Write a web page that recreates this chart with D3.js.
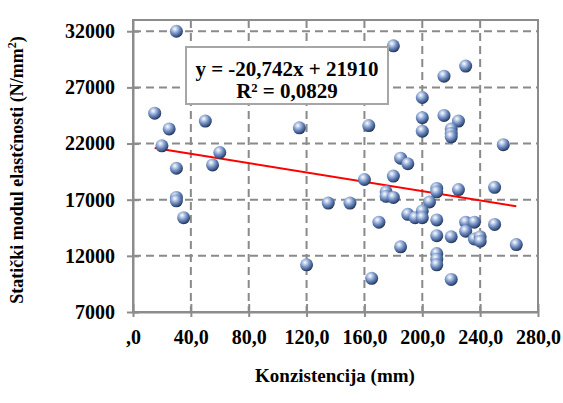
<!DOCTYPE html>
<html>
  <head>
    <meta charset="utf-8">
    <script src="https://d3js.org/d3.v7.min.js"></script>
    <style>
      body {
        margin: 0;
        background: #fff;
      }
    </style>
  </head>
  <body>
    <svg id="chart" width="563" height="403"></svg>
    <script>
      // values
      const konzistencija = [30, 15, 50, 25, 20, 60, 55, 30, 30, 30, 35,
        115, 163, 160, 135, 150, 120, 165,
        180, 230, 215, 200, 200, 215, 225, 200, 220, 220, 220, 256,
        185, 190, 180, 175, 175, 180, 210, 210, 225, 250, 205,
        190, 195, 200, 200, 170, 210, 230, 236, 250, 230,
        210, 220, 236, 240, 240, 265, 185, 210, 210, 210, 220]
      const modul = [32000, 24700, 24000, 23300, 21800, 21200, 20100, 19800, 17200, 16900, 15400,
        23400, 23600, 18800, 16700, 16700, 11200, 10000,
        30700, 28900, 28000, 26100, 24300, 24500, 24000, 23100, 23300, 22900, 22600, 21900,
        20700, 20200, 19100, 17700, 17300, 17200, 18000, 17700, 17900, 18100, 16800,
        15700, 15400, 16000, 15400, 15000, 15200, 15000, 15000, 14800, 14200,
        13800, 13700, 13500, 13700, 13300, 13000, 12800, 12200, 11700, 11200, 9900]
      const xTicks = [0, 40, 80, 120, 160, 200, 240, 280]
      const xTickLabels = [',0', '40,0', '80,0', '120,0', '160,0', '200,0', '240,0', '280,0']
      const yTicks = [7000, 12000, 17000, 22000, 27000, 32000]
      const slope = -20.742
      const intercept = 21910

      const points = konzistencija.map((x, i) => ({x: x, y: modul[i]}))
      const serif = '"Liberation Serif", "Times New Roman", Times, serif'

      const svg = d3.select('#chart')
        .attr('font-family', serif)
        .attr('font-weight', 'bold')
      const pl = 133, pr = 538, pt = 20, pb = 312

      const x = d3.scaleLinear().domain([0, 280]).range([pl, pr])
      const y = d3.scaleLinear().domain([7000, 33000]).range([pb, pt])

      const defs = svg.append('defs')
      const grad = defs.append('radialGradient')
        .attr('id', 'ball')
        .attr('cx', '38%').attr('cy', '32%').attr('r', '68%')
      grad.append('stop').attr('offset', '0%').attr('stop-color', '#ffffff')
      grad.append('stop').attr('offset', '22%').attr('stop-color', '#c3d1ea')
      grad.append('stop').attr('offset', '55%').attr('stop-color', '#6f8dc2')
      grad.append('stop').attr('offset', '85%').attr('stop-color', '#3d5787')
      grad.append('stop').attr('offset', '100%').attr('stop-color', '#22334f')

      // grid
      const gridColor = '#8a8a8a'
      svg.append('g').selectAll('line')
        .data(yTicks)
        .join('line')
          .attr('x1', pl).attr('x2', pr)
          .attr('y1', d => y(d)).attr('y2', d => y(d))
          .attr('stroke', gridColor)
          .attr('stroke-width', 2)
          .attr('stroke-dasharray', '8,5')
      svg.append('g').selectAll('line')
        .data(xTicks.slice(1, -1))
        .join('line')
          .attr('x1', d => x(d)).attr('x2', d => x(d))
          .attr('y1', pt).attr('y2', pb)
          .attr('stroke', gridColor)
          .attr('stroke-width', 2)
          .attr('stroke-dasharray', '8,5')

      // frame
      svg.append('rect')
        .attr('x', pl).attr('y', pt)
        .attr('width', pr - pl).attr('height', pb - pt)
        .attr('fill', 'none')
        .attr('stroke', '#8c8c8c')
        .attr('stroke-width', 2)

      // axes
      const xAxis = svg.append('g')
        .attr('transform', `translate(0,${pb})`)
        .call(d3.axisBottom(x).tickValues(xTicks)
          .tickFormat((d, i) => xTickLabels[i])
          .tickSizeInner(4).tickSizeOuter(0).tickPadding(14))
        .attr('font-family', serif)
        .attr('font-size', 20)
      xAxis.select('.domain').attr('stroke', '#8c8c8c').attr('stroke-width', 2)
      xAxis.selectAll('.tick line')
        .attr('stroke', '#8c8c8c').attr('stroke-width', 2)
        .attr('y1', -8).attr('y2', 5)
      xAxis.selectAll('.tick text').attr('fill', '#000')

      const yAxis = svg.append('g')
        .attr('transform', `translate(${pl},0)`)
        .call(d3.axisLeft(y).tickValues(yTicks)
          .tickFormat(d3.format('d'))
          .tickSizeInner(6).tickSizeOuter(0).tickPadding(12))
        .attr('font-family', serif)
        .attr('font-size', 20)
      yAxis.select('.domain').attr('stroke', '#8c8c8c').attr('stroke-width', 2)
      yAxis.selectAll('.tick line')
        .attr('stroke', '#8c8c8c').attr('stroke-width', 2)
        .attr('x1', -6).attr('x2', 6)
      yAxis.selectAll('.tick text').attr('fill', '#000')

      // trend line
      const xr = d3.extent(konzistencija)
      svg.append('line')
        .attr('x1', x(xr[0])).attr('y1', y(slope * xr[0] + intercept))
        .attr('x2', x(xr[1])).attr('y2', y(slope * xr[1] + intercept))
        .attr('stroke', '#ff0000')
        .attr('stroke-width', 2)

      // points
      svg.append('g').selectAll('circle')
        .data(points)
        .join('circle')
          .attr('cx', d => x(d.x))
          .attr('cy', d => y(d.y))
          .attr('r', 6.5)
          .attr('fill', 'url(#ball)')

      // equation box
      const box = svg.append('g')
      box.append('rect')
        .attr('x', 186).attr('y', 47)
        .attr('width', 202).attr('height', 57)
        .attr('fill', '#fff')
        .attr('stroke', '#a6a6a6')
        .attr('stroke-width', 2)
      box.append('text')
        .attr('x', 287).attr('y', 76)
        .attr('text-anchor', 'middle')
        .attr('font-size', 21)
        .text('y = -20,742x + 21910')
      box.append('text')
        .attr('x', 287).attr('y', 98)
        .attr('text-anchor', 'middle')
        .attr('font-size', 21)
        .text('R² = 0,0829')

      // axis titles
      const yt = svg.append('text')
        .attr('transform', 'translate(23,170) rotate(-90)')
        .attr('text-anchor', 'middle')
        .attr('font-size', 18)
      yt.append('tspan').text('Statički modul elastčnosti (N/mm')
      yt.append('tspan').attr('dy', -7).attr('font-size', 12).text('2')
      yt.append('tspan').attr('dy', 7).text(')')

      svg.append('text')
        .attr('x', 335).attr('y', 382)
        .attr('text-anchor', 'middle')
        .attr('font-size', 19)
        .text('Konzistencija (mm)')
    </script>
  </body>
</html>
